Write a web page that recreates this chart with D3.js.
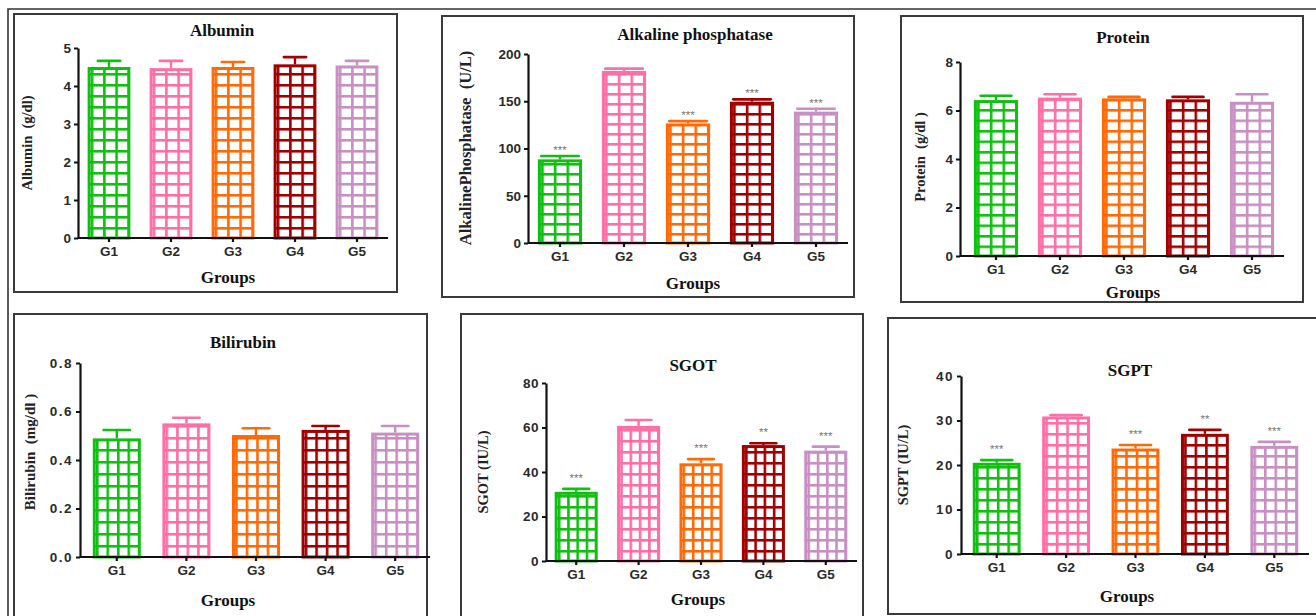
<!DOCTYPE html>
<html>
<head>
<meta charset="utf-8">
<script src="https://cdn.jsdelivr.net/npm/d3@7"></script>
<style>
  html, body { margin: 0; padding: 0; background: #fff; }
  svg { display: block; }
</style>
</head>
<body>
<svg id="chart" width="1316" height="616"></svg>
<script>
const groups = ['G1', 'G2', 'G3', 'G4', 'G5']
const colors = ['#10c010', '#ff6ea6', '#ff6a06', '#a00000', '#c890c2']

const albuminMean = [4.50, 4.47, 4.50, 4.57, 4.54]
const albuminSd = [0.16, 0.19, 0.13, 0.19, 0.12]
const albuminTicks = [0, 1, 2, 3, 4, 5]

const alpMean = [88.5, 182.0, 126.5, 149.5, 139.0]
const alpSd = [3.5, 2.5, 2.5, 2.5, 3.0]
const alpStars = ['***', '', '***', '***', '***']
const alpTicks = [0, 50, 100, 150, 200]

const proteinMean = [6.43, 6.53, 6.50, 6.46, 6.36]
const proteinSd = [0.18, 0.14, 0.06, 0.10, 0.31]
const proteinTicks = [0, 2, 4, 6, 8]

const bilirubinMean = [0.489, 0.551, 0.503, 0.524, 0.513]
const bilirubinSd = [0.035, 0.023, 0.028, 0.016, 0.027]
const bilirubinTicks = [0, 0.2, 0.4, 0.6, 0.8]

const sgotMean = [31.1, 60.7, 43.9, 52.1, 49.6]
const sgotSd = [1.3, 2.7, 1.9, 0.8, 1.8]
const sgotStars = ['***', '', '***', '**', '***']
const sgotTicks = [0, 20, 40, 60, 80]

const sgptMean = [20.5, 30.9, 23.7, 27.0, 24.3]
const sgptSd = [0.6, 0.3, 0.8, 0.9, 0.9]
const sgptStars = ['***', '', '***', '**', '***']
const sgptTicks = [0, 10, 20, 30, 40]

// layout of each small chart, in page pixels
const panels = [
  {key: 'alb', name: 'Albumin', ylabel: 'Albumin  (g/dl)', mean: albuminMean, sd: albuminSd, stars: null,
   ticks: albuminTicks, fmt: d3.format('d'), spacing: 0,
   box: [14, 14, 397, 292], axisX: 78, band: [78, 388], yTop: 48, yBot: 238,
   titlePos: [222, 30], ylab: [27, 143], ylabSize: 14.5, xlab: [228, 277], cols: 3, rowH: 11, cap: 0.52, starGap: 8},
  {key: 'alp', name: 'Alkaline phosphatase', ylabel: 'AlkalinePhosphatase  (U/L)', mean: alpMean, sd: alpSd, stars: alpStars,
   ticks: alpTicks, fmt: d3.format('d'), spacing: 0,
   box: [442, 16, 854, 297], axisX: 528, band: [528, 848], yTop: 54, yBot: 243,
   titlePos: [695, 34], ylab: [465, 148], ylabSize: 16.5, xlab: [693, 283], cols: 3, rowH: 10, cap: 0.85, starGap: 9},
  {key: 'pro', name: 'Protein', ylabel: 'Protein  (g/dl )', mean: proteinMean, sd: proteinSd, stars: null,
   ticks: proteinTicks, fmt: d3.format('d'), spacing: 0,
   box: [901, 16, 1303, 302], axisX: 960, band: [964, 1284], yTop: 62, yBot: 256,
   titlePos: [1123, 37], ylab: [920, 157], ylabSize: 14.5, xlab: [1133, 292], cols: 3, rowH: 10.5, cap: 0.7, starGap: 8},
  {key: 'bil', name: 'Bilirubin', ylabel: 'Bilirubin  (mg/dl )', mean: bilirubinMean, sd: bilirubinSd, stars: null,
   ticks: bilirubinTicks, fmt: d3.format('.1f'), spacing: 1.5,
   box: [14, 314, 427, 640], axisX: 80, band: [82, 430], yTop: 363, yBot: 557,
   titlePos: [243, 342], ylab: [30, 452], ylabSize: 15, xlab: [228, 600], cols: 4, rowH: 12, cap: 0.55, starGap: 8},
  {key: 'sgot', name: 'SGOT', ylabel: 'SGOT (IU/L)', mean: sgotMean, sd: sgotSd, stars: sgotStars,
   ticks: sgotTicks, fmt: d3.format('d'), spacing: 0.5,
   box: [461, 314, 863, 640], axisX: 546, band: [545, 857], yTop: 383, yBot: 561,
   titlePos: [693, 365], ylab: [483, 472], ylabSize: 14.5, xlab: [698, 599], cols: 4, rowH: 11, cap: 0.6, starGap: 14},
  {key: 'sgpt', name: 'SGPT', ylabel: 'SGPT (IU/L)', mean: sgptMean, sd: sgptSd, stars: sgptStars,
   ticks: sgptTicks, fmt: d3.format('d'), spacing: 1.5,
   box: [888, 318, 1322, 614], axisX: 961, band: [962, 1309], yTop: 376, yBot: 554,
   titlePos: [1130, 370], ylab: [903, 465], ylabSize: 14.5, xlab: [1127, 596], cols: 4, rowH: 11, cap: 0.65, starGap: 14}
]

const svg = d3.select('#chart')
const defs = svg.append('defs')
const serif = "'Liberation Serif', 'Times New Roman', serif"
const sans = "'Liberation Sans', Arial, sans-serif"

// outer frame (top and left edges are visible)
svg.append('path')
  .attr('d', 'M8,616V9H1316')
  .attr('fill', 'none')
  .attr('stroke', '#333')
  .attr('stroke-width', 1.6)

function drawPanel(p) {
  const g = svg.append('g')
  const [bx0, by0, bx1, by1] = p.box

  g.append('rect')
    .attr('x', bx0).attr('y', by0)
    .attr('width', bx1 - bx0).attr('height', by1 - by0)
    .attr('fill', 'none')
    .attr('stroke', '#3a3a3a')
    .attr('stroke-width', 2)

  const x = d3.scaleBand()
    .domain(groups)
    .range(p.band)
    .paddingInner(0.31)
    .paddingOuter(0.155)

  const y = d3.scaleLinear()
    .domain([p.ticks[0], p.ticks[p.ticks.length - 1]])
    .range([p.yBot, p.yTop])

  const bw = x.bandwidth()
  const stroke = 3

  // grid hatch for each bar, anchored to the bar itself
  groups.forEach((gr, i) => {
    const left = x(gr)
    const colW = (bw - 6) / p.cols
    const lw = 2.6
    const pat = defs.append('pattern')
      .attr('id', `pat-${p.key}-${i}`)
      .attr('patternUnits', 'userSpaceOnUse')
      .attr('x', left + 3.2).attr('y', p.yBot)
      .attr('width', colW).attr('height', p.rowH)
    pat.append('rect').attr('width', colW).attr('height', p.rowH).attr('fill', '#fff')
    pat.append('rect').attr('x', 0).attr('y', 0).attr('width', lw).attr('height', p.rowH).attr('fill', colors[i])
    pat.append('rect').attr('x', 0).attr('y', 0).attr('width', colW).attr('height', lw).attr('fill', colors[i])
  })

  const bars = g.append('g')
  const data = groups.map((gr, i) => ({gr, i, mean: p.mean[i], sd: p.sd[i], star: p.stars ? p.stars[i] : ''}))

  // error bars (upper only) behind the bars
  bars.selectAll('line.err')
    .data(data).join('line')
    .attr('class', 'err')
    .attr('x1', d => x(d.gr) + bw / 2).attr('x2', d => x(d.gr) + bw / 2)
    .attr('y1', d => y(d.mean)).attr('y2', d => y(d.mean + d.sd))
    .attr('stroke', d => colors[d.i]).attr('stroke-width', 2.4)

  bars.selectAll('line.cap')
    .data(data).join('line')
    .attr('class', 'cap')
    .attr('x1', d => x(d.gr) + bw / 2 - bw * p.cap / 2)
    .attr('x2', d => x(d.gr) + bw / 2 + bw * p.cap / 2)
    .attr('y1', d => y(d.mean + d.sd)).attr('y2', d => y(d.mean + d.sd))
    .attr('stroke', d => colors[d.i]).attr('stroke-width', 2.6)
    .attr('stroke-linecap', 'round')

  bars.selectAll('rect.bar')
    .data(data).join('rect')
    .attr('class', 'bar')
    .attr('x', d => x(d.gr) + stroke / 2)
    .attr('y', d => y(d.mean) + stroke / 2)
    .attr('width', bw - stroke)
    .attr('height', d => y(0) - y(d.mean) - stroke / 2)
    .attr('fill', d => `url(#pat-${p.key}-${d.i})`)
    .attr('stroke', d => colors[d.i])
    .attr('stroke-width', stroke)

  bars.selectAll('text.star')
    .data(data.filter(d => d.star)).join('text')
    .attr('class', 'star')
    .attr('x', d => x(d.gr) + bw / 2)
    .attr('y', d => y(d.mean + d.sd) - p.starGap)
    .attr('dy', '0.6em')
    .attr('text-anchor', 'middle')
    .attr('font-family', sans)
    .attr('font-size', 11.5)
    .attr('fill', '#777')
    .text(d => d.star)

  // y axis
  const yAxis = g.append('g')
    .attr('transform', `translate(${p.axisX},0)`)
    .call(d3.axisLeft(y).tickValues(p.ticks).tickFormat(p.fmt).tickSize(4).tickSizeOuter(0))
  yAxis.select('.domain').attr('stroke', '#111').attr('stroke-width', 2.2)
  yAxis.selectAll('.tick line').attr('stroke', '#111').attr('stroke-width', 2)
  yAxis.selectAll('.tick text')
    .attr('x', -7)
    .attr('font-family', sans).attr('font-weight', 'bold').attr('font-size', 13.5)
    .attr('letter-spacing', p.spacing)
    .attr('fill', '#2a2a2a')

  // x axis
  const xAxis = g.append('g')
    .attr('transform', `translate(0,${p.yBot})`)
    .call(d3.axisBottom(x).tickSize(4).tickSizeOuter(0))
  xAxis.select('.domain')
    .attr('d', `M${p.axisX},0H${p.band[1]}`)
    .attr('stroke', '#111').attr('stroke-width', 2)
  xAxis.selectAll('.tick line').attr('stroke', '#111').attr('stroke-width', 2.2)
  xAxis.selectAll('.tick text')
    .attr('y', 8)
    .attr('font-family', sans).attr('font-weight', 'bold').attr('font-size', 13.5)
    .attr('fill', '#2a2a2a')

  g.append('text')
    .attr('x', p.titlePos[0]).attr('y', p.titlePos[1]).attr('dy', '0.35em')
    .attr('text-anchor', 'middle')
    .attr('font-family', serif).attr('font-weight', 'bold').attr('font-size', 17)
    .attr('fill', '#111')
    .text(p.name)

  g.append('text')
    .attr('transform', `translate(${p.ylab[0]},${p.ylab[1]}) rotate(-90)`)
    .attr('dy', '0.35em')
    .attr('text-anchor', 'middle')
    .attr('font-family', serif).attr('font-weight', 'bold').attr('font-size', p.ylabSize)
    .attr('fill', '#222')
    .style('white-space', 'pre')
    .text(p.ylabel)

  g.append('text')
    .attr('x', p.xlab[0]).attr('y', p.xlab[1]).attr('dy', '0.35em')
    .attr('text-anchor', 'middle')
    .attr('font-family', serif).attr('font-weight', 'bold').attr('font-size', 17)
    .attr('fill', '#111')
    .text('Groups')
}

panels.forEach(drawPanel)
</script>
</body>
</html>
